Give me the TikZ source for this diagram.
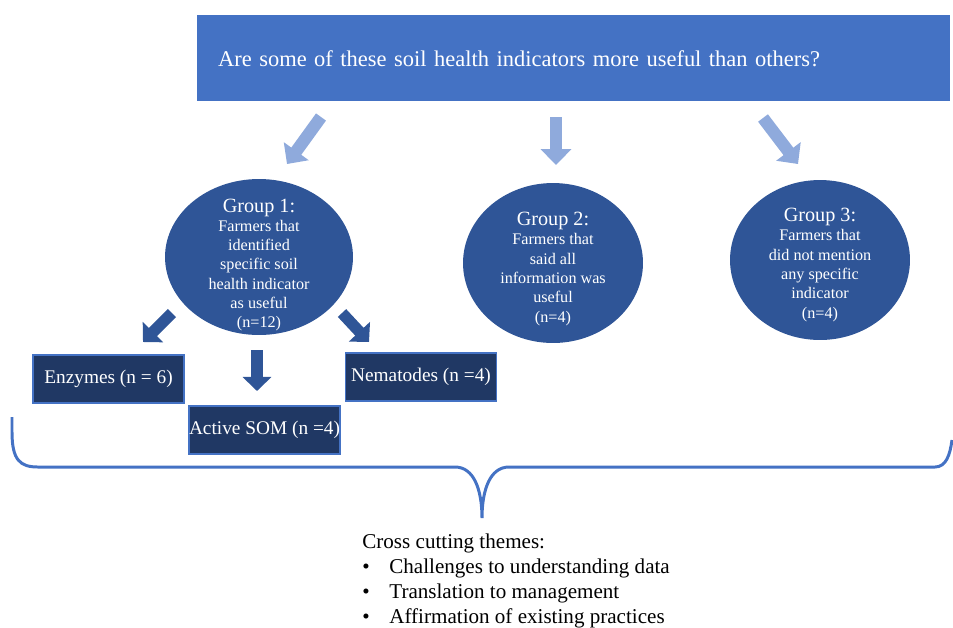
\documentclass[tikz,border=0pt]{standalone}
\usepackage{fontspec}
\setmainfont{Liberation Serif}
\usepackage{xcolor}
\usepackage{tikz}
\usetikzlibrary{arrows.meta,positioning,calc,shapes.geometric}

\definecolor{qblue}{HTML}{4472C4}
\definecolor{arrowblue}{HTML}{8FAADC}
\definecolor{groupblue}{HTML}{2F5597}
\definecolor{boxnavy}{HTML}{203864}

\begin{document}
\begin{tikzpicture}[x=0.02cm, y=-0.02cm,
    groupnode/.style={ellipse, fill=groupblue, inner sep=0pt},
    grouptext/.style={text=white, align=center, inner sep=0pt, font=\fontsize{9.2}{11}\selectfont},
    indicator/.style={rectangle, fill=boxnavy, draw=qblue, line width=0.6pt, text=white,
        minimum width=3.02cm, minimum height=0.96cm, inner sep=0pt, font=\fontsize{11}{13}\selectfont},
    lightarrow/.style={arrowblue, line width=7pt, -{Triangle[width=17pt,length=9pt]}},
    darkarrow/.style={groupblue, line width=6.5pt, -{Triangle[width=16pt,length=8pt]}}]
        \useasboundingbox (0,0) rectangle (953,627);

        % Question banner.
        \node[fill=qblue, text=white, minimum height=1.72cm, text width=14.22cm, inner xsep=0.42cm,
        text height=11.5pt, text depth=0.7pt, align=left, font=\fontsize{12.8}{15}\selectfont]
        (question) at (573.5,57.5)
        {Are some of these soil health indicators more useful than others?};

        % The three farmer groups.
        \node[groupnode, minimum width=3.76cm, minimum height=3.12cm] (group1) at (259,257) {};
        \node[grouptext] (group1text) at (259,265)
        {{\fontsize{11.5}{13}\selectfont Group 1:}\\Farmers that\\identified\\specific soil\\health indicator\\as useful\\(n=12)};
        \node[groupnode, minimum width=3.6cm, minimum height=3.2cm] (group2) at (553,263) {};
        \node[grouptext] (group2text) at (553,269)
        {{\fontsize{11.5}{13}\selectfont Group 2:}\\Farmers that\\said all\\information was\\useful\\(n=4)};
        \node[groupnode, minimum width=3.6cm, minimum height=3.2cm] (group3) at (820,260) {};
        \node[grouptext] (group3text) at (820,265)
        {{\fontsize{11.5}{13}\selectfont Group 3:}\\Farmers that\\did not mention\\any specific\\indicator\\(n=4)};

        % Arrows from the question down to the groups.
        \coordinate (q1) at (321,117);
        \coordinate (g1in) at (287,164);
        \coordinate (q2) at (556,117);
        \coordinate (g2in) at (556,165);
        \coordinate (q3) at (763,118);
        \coordinate (g3in) at (798,164);
        \draw[lightarrow] (q1) -- (g1in);
        \draw[lightarrow] (q2) -- (g2in);
        \draw[lightarrow] (q3) -- (g3in);

        % Indicators named by group 1.
        \node[indicator] (enzymes) at (108.5,379) {Enzymes (n = 6)};
        \node[indicator] (som) at (264.5,430) {Active SOM (n =4)};
        \node[indicator] (nematodes) at (421,377) {Nematodes (n =4)};

        \coordinate (e0) at (172,313);
        \coordinate (e1) at (143,342);
        \coordinate (s0) at (257,350);
        \coordinate (s1) at (257,391);
        \coordinate (n0) at (342,313);
        \coordinate (n1) at (369,342);
        \draw[darkarrow] (e0) -- (e1);
        \draw[darkarrow] (s0) -- (s1);
        \draw[darkarrow] (n0) -- (n1);

        % Brace gathering everything above.
        \draw[qblue, line width=1.7pt] (12,417) -- (12,432) .. controls (12,460) and (20,467) .. (38,467)
        -- (455,467) .. controls (474,467) and (482,490) .. (482,518)
        .. controls (482,490) and (490,467) .. (509,467)
        -- (935,467) .. controls (946,467) and (950,455) .. (952,440);

        % Cross cutting themes.
        \node[anchor=north west, align=left, inner sep=0pt, font=\fontsize{12}{14.2}\selectfont] (themes) at (362,534)
        {Cross cutting themes:\\
        \makebox[0.54cm][l]{\textbullet}Challenges to understanding data\\
        \makebox[0.54cm][l]{\textbullet}Translation to management\\
        \makebox[0.54cm][l]{\textbullet}Affirmation of existing practices};
\end{tikzpicture}
\end{document}
